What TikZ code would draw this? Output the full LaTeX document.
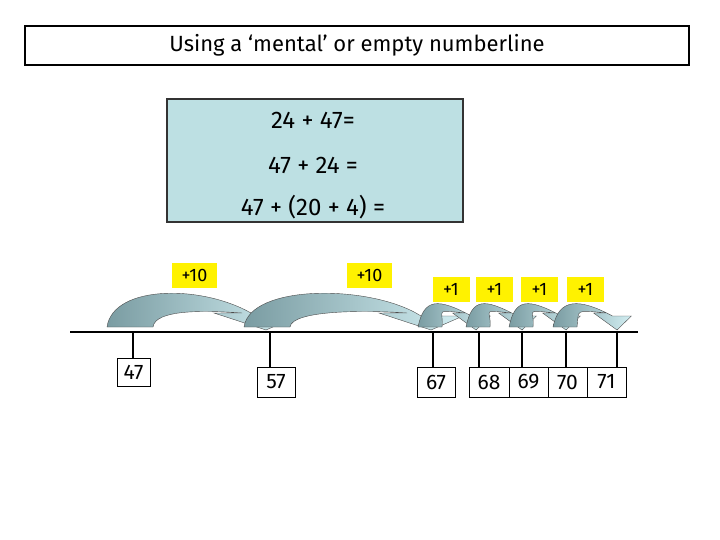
\documentclass[tikz,border=0pt]{standalone}
\usepackage{fontspec}
\setmainfont{Fira Sans}
\definecolor{boxblue}{HTML}{BDE0E3}
\definecolor{arcdark}{HTML}{7A9CA2}
\definecolor{arclight}{HTML}{D2EEF2}
\begin{document}
\begin{tikzpicture}[x=1pt,y=-1pt,
  numbox/.style={draw=black,fill=white,line width=0.8pt,minimum width=38pt,minimum height=30pt,inner sep=0pt,font=\fontsize{21}{21}\selectfont},
  plus/.style={fill=yellow,minimum width=37pt,minimum height=25pt,inner sep=0pt,font=\fontsize{18}{18}\selectfont},
  jumpsty/.style={draw=black!70,line width=0.4pt,left color=arcdark,right color=arclight}]
\useasboundingbox (0,0) rectangle (720,540);
\node[draw=black,line width=1.6pt,minimum width=664pt,minimum height=39pt,inner sep=0pt,font=\fontsize{22}{22}\selectfont] (title) at (357,45.5) {Using a ‘mental’ or empty numberline};
\node[draw=black!80,line width=1.2pt,fill=boxblue,minimum width=296pt,minimum height=123pt,inner sep=0pt] (sum) at (315,160.5) {};
\node[font=\fontsize{24}{24}\selectfont] (s1) at (313,120) {24 + 47=};
\node[font=\fontsize{24}{24}\selectfont] (s2) at (313,165) {47 + 24 =};
\node[font=\fontsize{24}{24}\selectfont] (s3) at (313,207) {47 + (20 + 4) =};
% arrows
\newcommand{\jumparc}[4]{%
 \shade[jumpsty] (#1-#4-6,327) .. controls (#1-#4,#3) and (#2-2*#4-20,#3) .. (#2-#4/2,316)
  -- (#2+#4*1.6,316) -- (#2,330) -- (#2-#4*2.6,313) -- (#2-#4*1.2,313)
  .. controls (#2-2*#4-25,#3+1.3*#4) and (#1+#4+2,#3+1.3*#4) .. (#1+#4,327) -- cycle;}
\jumparc{133}{266}{284}{20}
\jumparc{270}{431}{284}{20}
\jumparc{433}{476}{298}{9}
\jumparc{481}{522}{298}{9}
\jumparc{524}{566}{298}{9}
\jumparc{568}{617}{298}{9}
% line
\coordinate (L) at (70,332); \coordinate (R) at (638,332);
\draw[line width=2.5pt] (L) -- (R);
\node[numbox,minimum width=33pt,minimum height=28pt] (n47) at (133.5,372) {47};
\node[numbox] (n57) at (276,382) {57};
\node[numbox] (n67) at (436,382) {67};
\node[numbox,minimum width=40pt] (n68) at (489,382) {68};
\node[numbox,minimum width=39pt] (n69) at (528.5,382) {69};
\node[numbox,minimum width=39pt] (n70) at (567.5,382) {70};
\node[numbox,minimum width=39pt] (n71) at (606.5,382) {71};
\foreach \n/\x in {47/133,57/270,67/433,68/479,69/522,70/566,71/617}{
  \coordinate (t\n) at (\x,332);
  \draw[line width=2pt] (t\n) -- (t\n |- n\n.north);}
\node[plus,minimum width=45pt] (p1) at (194.5,275) {+10};
\node[plus,minimum width=45pt] (p2) at (369.5,275) {+10};
\node[plus] (p3) at (451,289.5) {+1};
\node[plus] (p4) at (494.5,289.5) {+1};
\node[plus] (p5) at (539.5,289.5) {+1};
\node[plus] (p6) at (585.5,289.5) {+1};
\end{tikzpicture}
\end{document}
